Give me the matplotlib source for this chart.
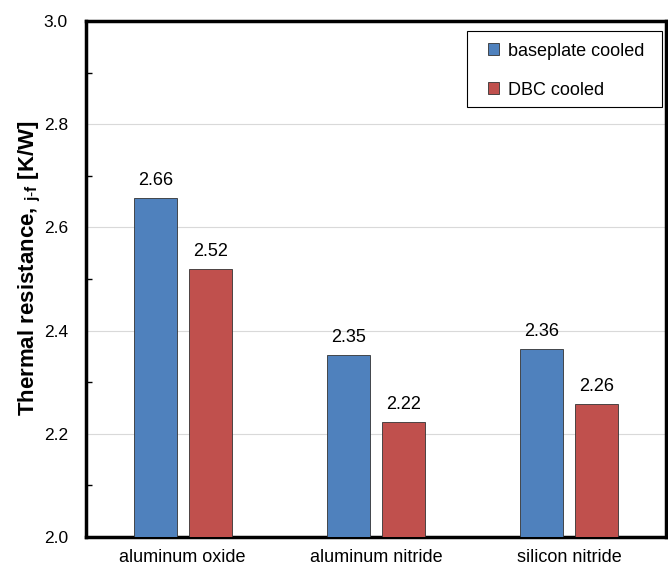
import matplotlib
matplotlib.use("Agg")
from matplotlib import pyplot as plt
from matplotlib.patches import Rectangle
import numpy as np

plt.rcParams['font.family'] = ['Liberation Sans', 'DejaVu Sans']
plt.rcParams['mathtext.fontset'] = 'custom'
plt.rcParams['mathtext.rm'] = 'Liberation Sans'
plt.rcParams['mathtext.bf'] = 'Liberation Sans:bold'

materials = ["aluminum oxide", "aluminum nitride", "silicon nitride"]
baseplate = [2.657, 2.352, 2.364]
dbc = [2.519, 2.222, 2.257]
series_names = ["baseplate cooled", "DBC cooled"]

fig = plt.figure(figsize=(6.68, 5.65), dpi=100)
ax = fig.add_axes([0.1287, 0.0496, 0.8683, 0.9134])

x = np.arange(len(materials))
w = 0.222
off = 0.142
b1 = ax.bar(x - off, baseplate, w, color="#4F81BD", edgecolor="#333333",
            linewidth=0.6, label=series_names[0], zorder=3)
b2 = ax.bar(x + off, dbc, w, color="#C0504D", edgecolor="#333333",
            linewidth=0.6, label=series_names[1], zorder=3)

for bars in (b1, b2):
    for r in bars:
        v = r.get_height()
        ax.text(r.get_x() + r.get_width() / 2, v + 0.018, "%.2f" % v,
                ha="center", va="bottom", fontsize=13, zorder=4)

ax.set_xlim(-0.5, 2.5)
ax.set_ylim(2.0, 3.0)
ax.set_yticks(np.arange(2.0, 3.01, 0.2))
ax.set_yticks(np.arange(2.1, 3.0, 0.2), minor=True)
ax.yaxis.set_major_formatter(plt.FormatStrFormatter("%.1f"))
ax.set_xticks(x)
ax.set_xticklabels(materials, fontsize=13)
ax.tick_params(axis="x", length=0, pad=9)
ax.tick_params(axis="y", which="both", direction="in", labelsize=12.5, pad=13)
ax.tick_params(axis="y", which="major", length=0)
ax.tick_params(axis="y", which="minor", length=4, width=1)
ax.grid(axis="y", which="major", color="#d9d9d9", linewidth=0.8, zorder=0)
ax.set_axisbelow(True)

for s in ax.spines.values():
    s.set_linewidth(2.5)

ax.set_ylabel(r"Thermal resistance, $\mathbf{_{j\text{-}f}}$ [K/W]", fontsize=16,
              fontweight="bold")
ax.yaxis.set_label_coords(-0.074, 0.52)

# legend frame drawn by hand so its padding matches
ax.add_patch(Rectangle((0.657, 0.833), 0.336, 0.148, transform=ax.transAxes,
                       facecolor="white", edgecolor="black", linewidth=0.8, zorder=5))
leg = ax.legend(loc="upper left", bbox_to_anchor=(0.693, 0.958), borderaxespad=0,
                borderpad=0, fontsize=13, handlelength=0.62, handleheight=0.62,
                labelspacing=1.22, handletextpad=0.5, frameon=False)
leg.set_zorder(6)

fig.savefig("out.png", dpi=100)
